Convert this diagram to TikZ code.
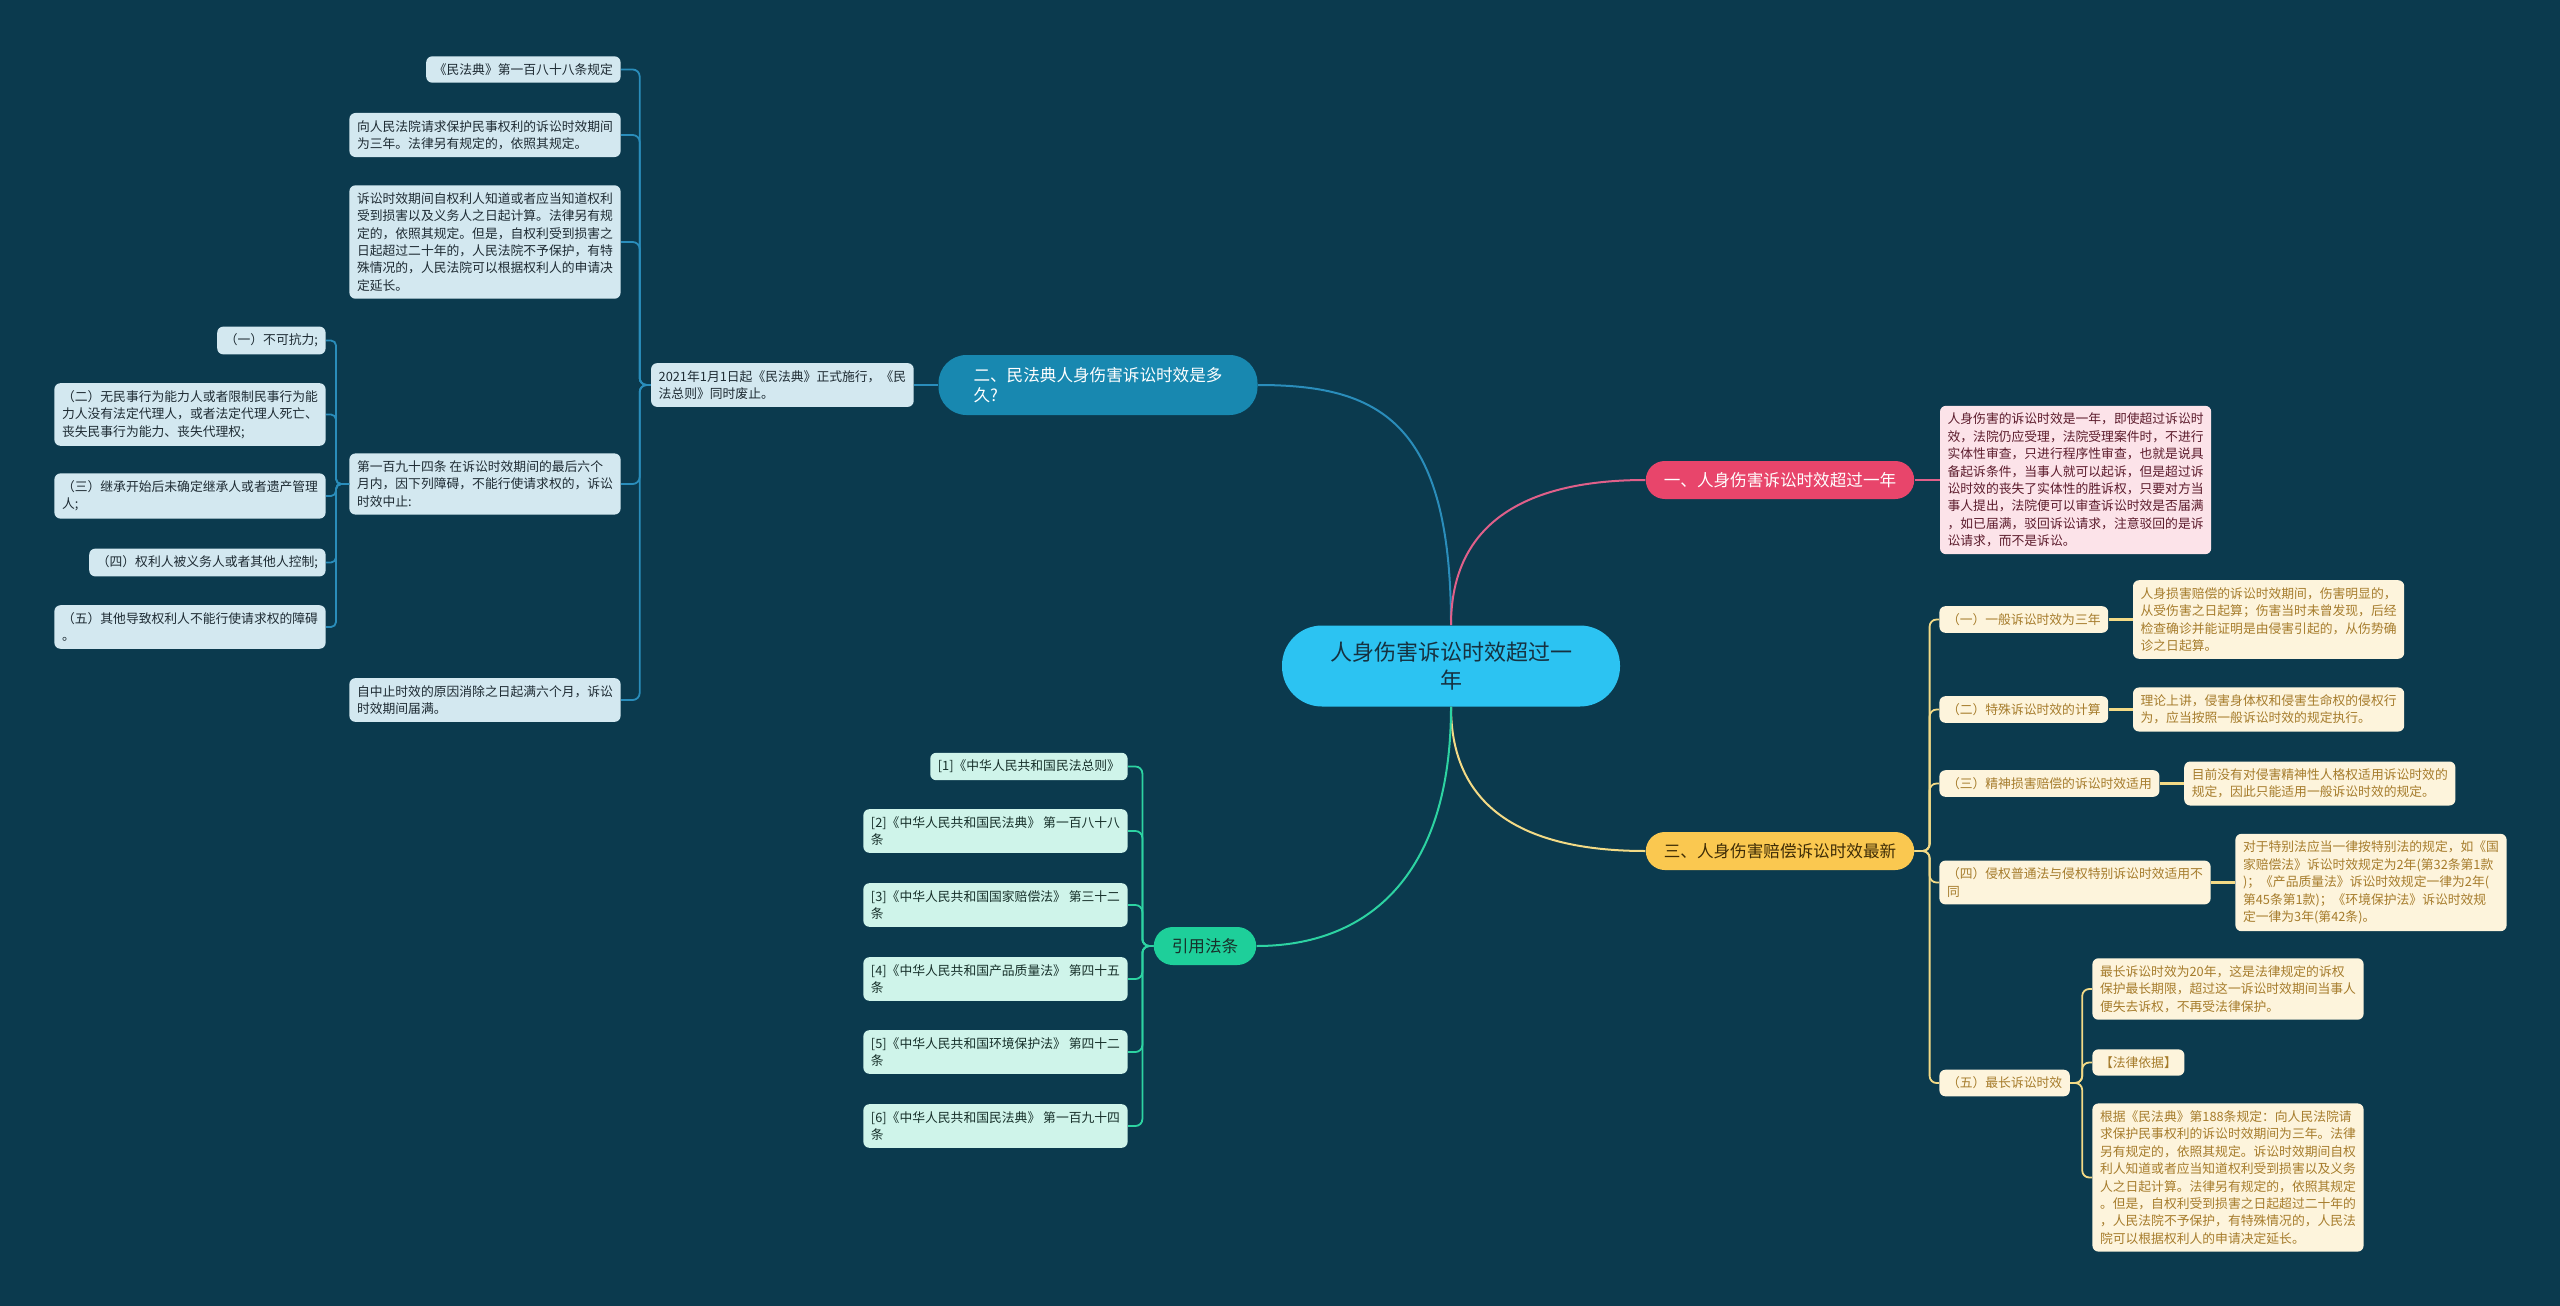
\documentclass[tikz,border=0pt]{standalone}
\usepackage{fontspec}
\setmainfont{Noto Sans CJK SC}
\usepackage{tikz}
\usetikzlibrary{positioning}
\definecolor{bgnavy}{HTML}{0B3A4E}
\definecolor{rootcyan}{HTML}{2CC3F2}
\definecolor{roottext}{HTML}{163140}
\definecolor{bluebranch}{HTML}{1888B0}
\definecolor{blueline}{HTML}{2A8DBB}
\definecolor{bluefill}{HTML}{D3E8F0}
\definecolor{bluetext}{HTML}{1E2B33}
\definecolor{pinkbranch}{HTML}{E8456B}
\definecolor{pinkline}{HTML}{E0608A}
\definecolor{pinkfill}{HTML}{FCE3E9}
\definecolor{pinktext}{HTML}{5C1C2C}
\definecolor{yellowbranch}{HTML}{FAC850}
\definecolor{yellowline}{HTML}{F3DA86}
\definecolor{yellowfill}{HTML}{FDF4DC}
\definecolor{yellowtext}{HTML}{A67C2C}
\definecolor{yellowdark}{HTML}{3E2C06}
\definecolor{greenbranch}{HTML}{1ECF9A}
\definecolor{greenline}{HTML}{2DD3A2}
\definecolor{greenfill}{HTML}{CFF4EA}
\definecolor{greentext}{HTML}{17302A}

\begin{document}
\begin{tikzpicture}[x=0.5pt, y=-0.5pt,
    root/.style={fill=rootcyan, text=roottext, rounded corners=20pt, minimum width=169pt, minimum height=40.5pt, align=center, font=\fontsize{11}{14}\selectfont},
    branch/.style={rounded corners=9.5pt, minimum height=19pt, inner xsep=9pt, font=\fontsize{8.3}{10}\selectfont},
    leaf/.style={rounded corners=3pt, inner xsep=3.8pt, inner ysep=3.6pt, align=left, font=\fontsize{6.4}{8.7}\selectfont},
    blueleaf/.style={leaf, fill=bluefill, text=bluetext},
    pinkleaf/.style={leaf, fill=pinkfill, text=pinktext},
    yellowleaf/.style={leaf, fill=yellowfill, text=yellowtext},
    greenleaf/.style={leaf, fill=greenfill, text=greentext},
    main/.style={line width=1pt},
    link/.style={line width=0.9pt, rounded corners=3.5pt}]
    \useasboundingbox (0,0) rectangle (2560,1306);
    \fill[bgnavy] (0,0) rectangle (2560,1306);

    % centre and the four branches
    \node[root] (root) at (1451,666) {人身伤害诉讼时效超过一\\年};
    \node[branch, fill=pinkbranch, text=white] (shixiao) at (1780,480) {一、人身伤害诉讼时效超过一年};
    \node[branch, fill=bluebranch, text=white, align=left, minimum width=159.5pt, minimum height=30pt, rounded corners=14pt] (duojiu) at (1098,385) {二、民法典人身伤害诉讼时效是多\\久?};
    \node[branch, fill=yellowbranch, text=yellowdark] (zuixin) at (1780,851) {三、人身伤害赔偿诉讼时效最新};
    \node[branch, fill=greenbranch, text=greentext] (fatiao) at (1205,946) {引用法条};

    \draw[main, blueline] (root.north) .. controls +(0,-205) and +(120,0) .. (duojiu.east);
    \draw[main, pinkline] (root.north) .. controls +(0,-105) and +(-116,0) .. (shixiao.west);
    \draw[main, yellowline] (root.south) .. controls +(0,105) and +(-116,0) .. (zuixin.west);
    \draw[main, greenline] (root.south) .. controls +(0,170) and +(110,0) .. (fatiao.east);

    % branch one
    \node[pinkleaf, right=12.5pt of shixiao] (yinian) {人身伤害的诉讼时效是一年，即使超过诉讼时\\效，法院仍应受理，法院受理案件时，不进行\\实体性审查，只进行程序性审查，也就是说具\\备起诉条件，当事人就可以起诉，但是超过诉\\讼时效的丧失了实体性的胜诉权，只要对方当\\事人提出，法院便可以审查诉讼时效是否届满\\，如已届满，驳回诉讼请求，注意驳回的是诉\\讼请求，而不是诉讼。};
    \draw[link, pinkline] (shixiao) -- (yinian);

    % branch two
    \node[blueleaf, left=12pt of duojiu] (shishi) {2021年1月1日起《民法典》正式施行，《民\\法总则》同时废止。};
    \draw[link, blueline] (duojiu) -- (shishi);
    \node[blueleaf, anchor=east] (guiding) at (621,69.5) {《民法典》第一百八十八条规定};
    \node[blueleaf, anchor=east] (sannian) at (621,135) {向人民法院请求保护民事权利的诉讼时效期间\\为三年。法律另有规定的，依照其规定。};
    \node[blueleaf, anchor=east] (jisuan) at (621,242) {诉讼时效期间自权利人知道或者应当知道权利\\受到损害以及义务人之日起计算。法律另有规\\定的，依照其规定。但是，自权利受到损害之\\日起超过二十年的，人民法院不予保护，有特\\殊情况的，人民法院可以根据权利人的申请决\\定延长。};
    \node[blueleaf, anchor=east] (zhongzhi) at (621,484) {第一百九十四条 在诉讼时效期间的最后六个\\月内，因下列障碍，不能行使请求权的，诉讼\\时效中止:};
    \node[blueleaf, anchor=east] (jieman) at (621,700) {自中止时效的原因消除之日起满六个月，诉讼\\时效期间届满。};
    \foreach \n in {guiding,sannian,jisuan,zhongzhi,jieman}
        \draw[link, blueline] (shishi.west) -- ++(-11,0) |- (\n.east);

    \node[blueleaf, anchor=east] (kangli) at (326,340.5) {（一）不可抗力;};
    \node[blueleaf, anchor=east] (daili) at (326,414.5) {（二）无民事行为能力人或者限制民事行为能\\力人没有法定代理人，或者法定代理人死亡、\\丧失民事行为能力、丧失代理权;};
    \node[blueleaf, anchor=east] (jicheng) at (326,496) {（三）继承开始后未确定继承人或者遗产管理\\人;};
    \node[blueleaf, anchor=east] (kongzhi) at (326,562.5) {（四）权利人被义务人或者其他人控制;};
    \node[blueleaf, anchor=east] (zhangai) at (326,627) {（五）其他导致权利人不能行使请求权的障碍\\。};
    \foreach \n in {kangli,daili,jicheng,kongzhi,zhangai}
        \draw[link, blueline, rounded corners=2.5pt] (zhongzhi.west) -- ++(-13,0) |- (\n.east);

    % branch three
    \node[yellowleaf, anchor=west] (yiban) at (1939,619.5) {（一）一般诉讼时效为三年};
    \node[yellowleaf, anchor=west] (teshu) at (1939,709.5) {（二）特殊诉讼时效的计算};
    \node[yellowleaf, anchor=west] (jingshen) at (1939,783.5) {（三）精神损害赔偿的诉讼时效适用};
    \node[yellowleaf, anchor=west] (putong) at (1939,882.5) {（四）侵权普通法与侵权特别诉讼时效适用不\\同};
    \node[yellowleaf, anchor=west] (zuichang) at (1939,1083) {（五）最长诉讼时效};
    \foreach \n in {yiban,teshu,jingshen,putong,zuichang}
        \draw[link, yellowline] (zuixin.east) -- ++(15,0) |- (\n.west);

    \node[yellowleaf, right=12pt of yiban] (yibanx) {人身损害赔偿的诉讼时效期间，伤害明显的，\\从受伤害之日起算；伤害当时未曾发现，后经\\检查确诊并能证明是由侵害引起的，从伤势确\\诊之日起算。};
    \node[yellowleaf, right=12pt of teshu] (teshux) {理论上讲，侵害身体权和侵害生命权的侵权行\\为，应当按照一般诉讼时效的规定执行。};
    \node[yellowleaf, right=12pt of jingshen] (jingshenx) {目前没有对侵害精神性人格权适用诉讼时效的\\规定，因此只能适用一般诉讼时效的规定。};
    \node[yellowleaf, right=12pt of putong] (putongx) {对于特别法应当一律按特别法的规定，如《国\\家赔偿法》诉讼时效规定为2年(第32条第1款\\)；《产品质量法》诉讼时效规定一律为2年(\\第45条第1款)；《环境保护法》诉讼时效规\\定一律为3年(第42条)。};
    \foreach \a/\b in {yiban/yibanx,teshu/teshux,jingshen/jingshenx,putong/putongx}
        \draw[link, yellowline, line width=1.3pt] (\a) -- (\b);

    \node[yellowleaf, anchor=west] (ershinian) at (2092,989) {最长诉讼时效为20年，这是法律规定的诉权\\保护最长期限，超过这一诉讼时效期间当事人\\便失去诉权，不再受法律保护。};
    \node[yellowleaf, anchor=west] (yiju) at (2092,1062.5) {【法律依据】};
    \node[yellowleaf, anchor=west] (genju) at (2092,1177.5) {根据《民法典》第188条规定：向人民法院请\\求保护民事权利的诉讼时效期间为三年。法律\\另有规定的，依照其规定。诉讼时效期间自权\\利人知道或者应当知道权利受到损害以及义务\\人之日起计算。法律另有规定的，依照其规定\\。但是，自权利受到损害之日起超过二十年的\\，人民法院不予保护，有特殊情况的，人民法\\院可以根据权利人的申请决定延长。};
    \foreach \n in {ershinian,yiju,genju}
        \draw[link, yellowline] (zuichang.east) -- ++(12,0) |- (\n.west);

    % branch four
    \node[greenleaf, anchor=east] (zongze) at (1128,766.5) {[1]《中华人民共和国民法总则》};
    \node[greenleaf, anchor=east] (dian188) at (1128,831) {[2]《中华人民共和国民法典》 第一百八十八\\条};
    \node[greenleaf, anchor=east] (peichang) at (1128,905) {[3]《中华人民共和国国家赔偿法》 第三十二\\条};
    \node[greenleaf, anchor=east] (zhiliang) at (1128,979) {[4]《中华人民共和国产品质量法》 第四十五\\条};
    \node[greenleaf, anchor=east] (huanjing) at (1128,1052) {[5]《中华人民共和国环境保护法》 第四十二\\条};
    \node[greenleaf, anchor=east] (dian194) at (1128,1126) {[6]《中华人民共和国民法典》 第一百九十四\\条};
    \foreach \n in {zongze,dian188,peichang,zhiliang,huanjing,dian194}
        \draw[link, greenline] (fatiao.west) -- ++(-11,0) |- (\n.east);
\end{tikzpicture}
\end{document}
